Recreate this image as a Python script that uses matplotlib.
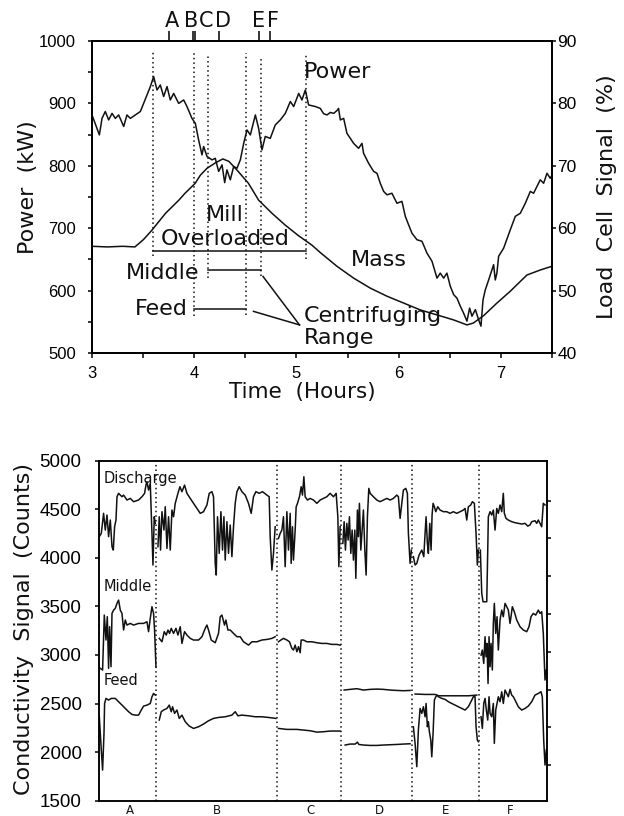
import numpy as np
import matplotlib
matplotlib.use('Agg')
import matplotlib.pyplot as plt
from matplotlib import font_manager
from matplotlib.ticker import MultipleLocator


# ---------------- top panel: mill power and load cell signal vs time
power_t = [3.000, 3.072, 3.098, 3.130, 3.163, 3.196, 3.228, 3.261, 3.310, 3.342,
           3.375, 3.424, 3.473, 3.505, 3.538, 3.571, 3.603, 3.636, 3.668, 3.701,
           3.734, 3.766, 3.799, 3.848, 3.897, 3.929, 3.978, 4.011, 4.043, 4.076,
           4.092, 4.125, 4.174, 4.206, 4.239, 4.272, 4.298, 4.320, 4.353, 4.386,
           4.418, 4.451, 4.484, 4.516, 4.549, 4.598, 4.630, 4.663, 4.695, 4.744,
           4.793, 4.842, 4.891, 4.940, 4.973, 5.022, 5.054, 5.087, 5.119, 5.185,
           5.233, 5.266, 5.299, 5.331, 5.364, 5.396, 5.412, 5.429, 5.462, 5.494,
           5.527, 5.559, 5.608, 5.641, 5.657, 5.706, 5.755, 5.788, 5.820, 5.853,
           5.886, 5.934, 5.983, 6.032, 6.065, 6.097, 6.130, 6.179, 6.228, 6.277,
           6.326, 6.375, 6.407, 6.440, 6.472, 6.505, 6.538, 6.570, 6.603, 6.635,
           6.668, 6.694, 6.717, 6.750, 6.782, 6.805, 6.825, 6.847, 6.880, 6.913,
           6.929, 6.945, 6.961, 6.978, 7.027, 7.092, 7.141, 7.190, 7.239, 7.288,
           7.320, 7.353, 7.385, 7.418, 7.451, 7.483, 7.500]
power_kw = [881.5, 849.5, 876, 887, 873.5, 884, 876, 881.5, 863, 881.5,
            876, 881.5, 887, 900, 913.5, 927, 943, 921.5, 929.5, 911,
            927, 905.5, 916, 900, 905.5, 895, 876, 868, 841.5, 817.5,
            831, 815, 809.5, 812, 791, 801.5, 773, 793.5, 777.5, 799,
            796, 809.5, 836, 857.5, 849.5, 881.5, 860, 825.5, 847, 844,
            865.5, 873.5, 884, 903, 895, 916, 905.5, 921.5, 897.5, 895,
            892, 883.5, 881.5, 885.5, 884, 888.5, 892, 873.5, 876, 852,
            844, 836, 828, 836, 820, 804, 791, 788, 772, 759,
            753.5, 756, 740, 743, 719, 705.5, 692, 681.5, 679, 660,
            647, 620, 628, 620, 628, 607, 593.5, 588, 575, 564,
            551, 572, 559, 569.5, 553.5, 543, 585, 601, 617, 633.5,
            641.5, 617, 628, 655, 668, 697.5, 719, 724, 740, 759,
            756, 767, 777.5, 772, 788, 780, 785]

mass_t = [3.00, 3.15, 3.30, 3.42, 3.505, 3.587, 3.72, 3.85, 3.91, 4.01,
          4.06, 4.125, 4.21, 4.28, 4.34, 4.43, 4.53, 4.63, 4.76, 4.89,
          5.02, 5.15, 5.233, 5.396, 5.559, 5.722, 5.886, 6.049, 6.212, 6.375,
          6.538, 6.668, 6.73, 6.832, 6.961, 7.092, 7.255, 7.385, 7.50]
mass_pct = [57.1, 57.0, 57.1, 57.0, 58.2, 59.7, 62.4, 64.5, 65.6, 67.2,
            68.5, 69.6, 70.5, 71.1, 70.7, 69.1, 67.2, 64.5, 62.4, 60.5,
            58.8, 57.3, 56.1, 53.9, 52.0, 50.4, 49.1, 48.0, 46.9, 46.1,
            45.3, 44.5, 44.8, 46.0, 48.0, 49.9, 52.5, 53.3, 53.9]

# sample times marked on the top axis
sample_names = ['A', 'B', 'C', 'D', 'E', 'F']
sample_t = [3.75, 3.99, 4.012, 4.24, 4.63, 4.74]
sample_label_t = [3.78, 3.97, 4.12, 4.28, 4.63, 4.77]

# dotted markers: time, top and bottom (kW)
marker_t = [3.60, 4.00, 4.135, 4.505, 4.655, 5.095]
marker_top = [984, 980, 978, 980, 975, 978]
marker_bot = [655, 559, 620, 561, 623, 650]

# ranges (start, end, level kW)
overload_rng = (3.60, 5.095, 663)
middle_rng = (4.135, 4.655, 633)
feed_rng = (4.00, 4.505, 570.5)
centrif_join = (5.03, 545)

# ---------------- bottom panel: conductivity traces per sample window
seg_names = ['A', 'B', 'C', 'D', 'E', 'F']
seg_edges = [57, 177.5, 241.7, 312.7, 380]
seg_label_x = [31, 117.7, 211, 280, 346.5, 411]

discharge_x = [
    [0.0, 2.0, 4.3, 6.0, 7.7, 9.3, 11.0, 12.7, 14.0, 15.3, 16.7, 17.7, 19.3, 22.7, 24.3,
     27.7, 31.0, 34.3, 39.3, 42.7, 45.3, 46.7, 47.7, 49.3, 51.0, 52.7, 53.7, 55.0, 56.0],
    [58.7, 60.0, 61.3, 62.7, 64.7, 66.0, 67.7, 69.3, 71.0, 72.7, 74.3, 76.0, 78.7, 80.7,
     82.7, 85.3, 87.7, 91.0, 94.3, 97.7, 101.0, 104.3, 107.7, 110.0, 112.7, 114.3, 116.0,
     117.0, 118.3, 120.0, 121.7, 123.3, 124.7, 126.0, 127.7, 129.3, 131.0, 132.7, 134.3,
     136.0, 137.7, 140.0, 142.7, 146.0, 149.3, 152.0, 154.3, 156.7, 160.0, 163.3, 167.7,
     170.0, 171.0, 172.7, 174.3, 176.0],
    [179.3, 181.0, 182.7, 184.3, 186.0, 187.7, 189.3, 191.0, 192.0, 193.3, 194.3, 196.0,
     197.0, 198.3, 200.3, 202.0, 203.3, 204.7, 206.0, 208.3, 211.0, 214.3, 217.7, 221.0,
     224.3, 227.7, 231.0, 234.3, 237.0, 238.7, 239.7, 241.0],
    [243.7, 245.0, 246.3, 247.7, 249.0, 250.3, 251.7, 253.0, 254.3, 255.7, 256.7, 258.3,
     259.3, 260.3, 261.7, 263.0, 264.3, 265.7, 267.0, 268.3, 269.7, 271.0, 274.3, 277.7,
     281.0, 284.3, 287.7, 291.0, 294.3, 297.7, 299.3, 301.0, 302.7, 304.3, 306.7, 308.3,
     309.3, 311.0, 312.3],
    [314.3, 316.0, 317.7, 320.0, 322.7, 324.7, 326.0, 327.0, 328.3, 329.3, 330.7, 332.0,
     333.0, 334.0, 335.3, 336.7, 338.7, 341.0, 344.3, 347.7, 351.0, 354.3, 357.7, 361.0,
     364.3, 366.0, 367.7, 369.3, 371.7, 373.3, 375.3, 377.0, 378.3, 379.3],
    [381.3, 382.7, 384.0, 387.7, 388.7, 389.3, 391.0, 392.7, 394.3, 396.0, 397.7, 399.3,
     401.0, 402.7, 404.3, 405.3, 407.0, 409.3, 412.7, 416.0, 419.3, 422.7, 426.0, 428.7,
     431.0, 432.7, 436.0, 437.7, 439.3, 441.0, 442.7, 444.3, 446.0],
]
discharge_y = [
    [4218, 4252, 4458, 4286, 4441, 4218, 4389, 4115, 4080, 4320, 4389, 4629, 4664, 4629, 4646,
     4595, 4612, 4578, 4595, 4629, 4664, 4749, 4784, 4698, 4767, 4252, 3926, 4423, 4355],
    [4115, 4423, 4080, 4475, 4286, 4526, 4097, 4423, 4080, 4492, 4423, 4561, 4664, 4732,
     4681, 4749, 4664, 4612, 4561, 4509, 4458, 4475, 4544, 4664, 4681, 4629, 3943,
     3823, 4423, 4046, 4475, 4080, 4423, 3977, 4372, 4046, 4338, 4012, 4320,
     4561, 4681, 4732, 4681, 4646, 4561, 4458, 4629, 4681, 4664, 4681, 4646,
     4629, 4218, 3874, 4046, 4320],
    [4200, 4252, 4286, 4423, 3909, 4475, 4080, 4458, 3943, 4320, 3977, 4286,
     4526, 4561, 4629, 4732, 4646, 4835, 4629, 4595, 4612, 4595, 4561, 4595,
     4612, 4629, 4664, 4629, 4664, 4423, 3909, 4320],
    [4149, 4372, 4080, 4355, 4183, 4423, 4046, 4286, 3977, 4286, 3789, 4492,
     4218, 4561, 4080, 4286, 4492, 4080, 3823, 4423, 4715, 4664, 4629, 4595,
     4578, 4595, 4612, 4595, 4612, 4646, 4629, 4406, 4561, 4698, 4715, 4664,
     4252, 3943, 4080],
    [4012, 3926, 3943, 4029, 4080, 4012, 4252, 4423, 4149, 4046, 4355, 4080,
     4441, 4561, 4526, 4475, 4526, 4492, 4475, 4475, 4458, 4475, 4458, 4475,
     4492, 4509, 4389, 4526, 4544, 4578, 4561, 4252, 3926, 4080],
    [4080, 3634, 3548, 3548, 4080, 4423, 4475, 4441, 4492, 4286, 4509, 4458,
     4544, 4475, 4664, 4458, 4406, 4389, 4372, 4362, 4355, 4348, 4355, 4327,
     4338, 4372, 4382, 4355, 4389, 4355, 4320, 4561, 4544],
]

middle_x = [
    [1.0, 3.3, 5.0, 6.7, 8.0, 9.3, 10.3, 11.7, 12.7, 14.3, 16.0, 17.7, 19.3, 21.0, 22.7,
     24.3, 26.0, 27.7, 31.0, 34.3, 39.3, 44.3, 47.7, 49.3, 51.0, 52.7, 54.3, 55.3, 56.7],
    [60.0, 62.7, 65.0, 67.0, 68.7, 70.3, 72.0, 74.3, 76.7, 78.7, 81.0, 82.7, 85.3, 87.7,
     91.0, 94.3, 99.3, 102.7, 106.0, 107.7, 109.3, 112.0, 116.0, 119.3, 121.0, 122.7,
     125.3, 126.7, 128.7, 131.0, 134.3, 137.7, 141.0, 144.3, 149.3, 152.7, 157.7, 162.7,
     167.7, 172.7, 176.0],
    [179.3, 181.7, 184.3, 187.7, 190.3, 192.7, 194.3, 196.0, 197.7, 199.3, 201.0, 202.0,
     204.3, 207.7, 212.7, 217.7, 222.7, 227.7, 232.7, 237.7, 241.0],
    [245.0, 251.0, 257.7, 264.3, 271.0, 277.7, 284.3, 291.0, 297.7, 304.3, 311.0],
    [316.0, 326.0, 336.0, 339.3, 349.3, 359.3, 369.3, 377.7],
    [382.0, 383.3, 384.7, 386.0, 387.0, 388.0, 389.0, 390.0, 391.0, 392.0, 393.3, 394.3,
     395.3, 396.7, 398.0, 399.3, 401.0, 402.7, 404.3, 406.0, 407.7, 409.3, 411.0, 412.0,
     413.3, 415.3, 417.7, 421.0, 424.3, 427.7, 430.0, 432.0, 434.3, 436.7, 439.3, 441.0,
     442.7, 444.3, 446.0, 447.3],
]
middle_y = [
    [2862, 2845, 3411, 3154, 3394, 2862, 3291, 2879, 3428, 3462, 3480, 3531, 3565, 3462, 3428,
     3257, 3360, 3308, 3325, 3308, 3325, 3325, 3342, 3240, 3377, 3497, 3428, 3257, 2879],
    [3171, 3136, 3240, 3205, 3257, 3222, 3274, 3222, 3274, 3205, 3291, 3119, 3240, 3205,
     3171, 3154, 3154, 3188, 3274, 3308, 3257, 3154, 3126, 3222, 3394, 3411,
     3308, 3360, 3257, 3257, 3222, 3188, 3188, 3136, 3102, 3136, 3136, 3154,
     3160, 3171, 3188],
    [3136, 3154, 3171, 3154, 3136, 3068, 3051, 3102, 3033, 3085, 3023, 3154,
     3154, 3136, 3136, 3126, 3119, 3119, 3109, 3109, 3102],
    [2639, 2646, 2653, 2639, 2646, 2649, 2646, 2639, 2635, 2632, 2635],
    [2598, 2594, 2594, 2580, 2580, 2580, 2580, 2587],
    [2999, 3051, 2913, 3188, 2982, 3119, 2707, 3188, 2879, 3119, 2845, 3325,
     3531, 3222, 3394, 3051, 3360, 3462, 3394, 3531, 3497, 3462, 3325, 3394,
     3497, 3445, 3360, 3291, 3257, 3240, 3291, 3394, 3428, 3411, 3462, 3428,
     3445, 3222, 2742, 2845],
]

feed_x = [
    [0.0, 2.0, 3.3, 4.7, 5.3, 6.7, 9.3, 12.0, 16.0, 19.3, 22.7, 26.0, 29.3, 32.7, 36.0,
     39.3, 42.0, 44.3, 47.7, 51.0, 52.7, 54.3, 56.0],
    [60.0, 62.0, 64.3, 67.7, 70.0, 72.0, 73.3, 75.3, 77.7, 80.0, 82.7, 86.0, 90.0, 94.3,
     99.3, 104.3, 109.3, 114.3, 119.3, 126.0, 132.7, 136.0, 138.7, 142.7, 149.3, 156.0,
     162.7, 169.3, 176.7],
    [179.3, 187.7, 197.7, 204.3, 211.0, 217.7, 224.3, 231.0, 241.0],
    [246.0, 251.0, 256.0, 258.3, 259.7, 264.3, 271.0, 277.7, 284.3, 291.0, 297.7, 304.3,
     311.0],
    [314.3, 316.0, 317.7, 319.3, 321.0, 322.7, 324.3, 326.0, 327.0, 328.3, 329.3, 330.3,
     331.7, 332.7, 334.0, 335.3, 336.7, 338.0, 339.3, 342.7, 346.0, 349.3, 352.7, 356.0,
     359.3, 362.7, 366.0, 369.3, 372.7, 374.3, 376.0, 377.0, 378.3, 379.3],
    [382.0, 383.3, 384.7, 386.0, 387.3, 388.7, 390.0, 391.0, 392.7, 394.3, 395.3, 396.7,
     398.0, 399.3, 401.0, 402.7, 404.3, 406.0, 407.7, 409.3, 411.0, 412.7, 414.3, 416.0,
     419.3, 422.7, 426.0, 429.3, 432.7, 436.0, 439.3, 442.0, 443.3, 444.7, 446.0, 447.3],
]
feed_y = [
    [2364, 2021, 1815, 2193, 2501, 2553, 2536, 2553, 2553, 2519, 2484, 2450, 2416, 2388, 2381,
     2381, 2433, 2474, 2484, 2501, 2570, 2604, 2587],
    [2330, 2416, 2433, 2450, 2484, 2416, 2467, 2399, 2433, 2347, 2381, 2313, 2268, 2244,
     2261, 2289, 2323, 2347, 2357, 2364, 2381, 2416, 2374, 2381, 2374, 2364,
     2364, 2357, 2347],
    [2244, 2234, 2234, 2227, 2220, 2206, 2210, 2217, 2217],
    [2073, 2083, 2083, 2103, 2079, 2073, 2069, 2069, 2073, 2076, 2079, 2083, 2086],
    [2261, 2090, 1850, 2227, 2450, 2399, 2467, 2364, 2501, 2261, 2313, 2210,
     2124, 1952, 2193, 2536, 2570, 2587, 2570, 2553, 2543, 2519, 2501, 2484,
     2467, 2450, 2433, 2467, 2536, 2570, 2570, 2261, 2124, 2107],
    [2364, 2244, 2501, 2553, 2433, 2330, 2570, 2399, 2364, 2501, 2090, 2433,
     2501, 2570, 2519, 2621, 2501, 2639, 2604, 2570, 2646, 2587, 2570, 2536,
     2467, 2433, 2450, 2474, 2519, 2587, 2604, 2622, 2570, 2124, 1867, 2021],
]


def pick_font(names, fallback='DejaVu Sans'):
    for name in names:
        try:
            font_manager.findfont(name, fallback_to_default=False)
            return name
        except ValueError:
            pass
    return fallback


# narrow-ish digits like the scanned original
tick_font = pick_font(['Liberation Sans Narrow', 'Liberation Sans'])
label_font = 'DejaVu Sans'
plt.rcParams['font.family'] = label_font
plt.rcParams['axes.linewidth'] = 1.1

W, H = 624, 816
fig = plt.figure(figsize=(W / 100, H / 100), dpi=100)


def px_box(x0, y0, x1, y1):
    # pixel box (top-left origin) -> figure fraction rect
    return [x0 / W, 1 - y1 / H, (x1 - x0) / W, (y1 - y0) / H]


LW = 1.1
ink = '#111111'

# ================= top panel
ax = fig.add_axes(px_box(92, 41, 552, 353))
ax.plot(power_t, power_kw, color=ink, lw=LW)
ax.set_xlim(3, 7.5)
ax.set_ylim(500, 1000)
ax.xaxis.set_major_locator(MultipleLocator(1))
ax.xaxis.set_minor_locator(MultipleLocator(0.5))
ax.yaxis.set_major_locator(MultipleLocator(100))
ax.yaxis.set_minor_locator(MultipleLocator(50))
ax.tick_params(axis='y', which='both', direction='out', length=3, width=1.1)
ax.tick_params(axis='y', pad=8.5)
ax.tick_params(axis='x', which='both', direction='out', length=3.5, width=1.1)
ax.tick_params(axis='x', pad=6)
for lab in ax.get_xticklabels() + ax.get_yticklabels():
    lab.set_fontfamily(tick_font)
    lab.set_fontsize(12)

axm = ax.twinx()
axm.plot(mass_t, mass_pct, color=ink, lw=LW)
axm.set_ylim(40, 90)
axm.yaxis.set_major_locator(MultipleLocator(10))
axm.tick_params(axis='y', direction='out', length=3, width=1.1, pad=1)
for lab in axm.get_yticklabels():
    lab.set_fontfamily(tick_font)
    lab.set_fontsize(12.5)

# sample ticks and letters on the top edge
axt = ax.twiny()
axt.set_xlim(ax.get_xlim())
axt.set_xticks(sample_t)
axt.set_xticklabels([])
axt.tick_params(axis='x', direction='out', length=7, width=1.1)
for name, tx in zip(sample_names, sample_label_t):
    ax.text(tx, 1.046, name, transform=ax.get_xaxis_transform(), ha='center',
            va='baseline', fontsize=15, color=ink)

# dotted markers
for mt, top, bot in zip(marker_t, marker_top, marker_bot):
    ax.plot([mt, mt], [bot, top], color=ink, lw=1.1, ls=(0, (1, 2.0)))

for t0, t1, lev in (overload_rng, middle_rng, feed_rng):
    ax.plot([t0, t1], [lev, lev], color=ink, lw=LW)

# connectors to "Centrifuging Range"
ax.plot([4.673, centrif_join[0]], [622.7, centrif_join[1]], color=ink, lw=LW)
ax.plot([4.58, centrif_join[0]], [566.7, centrif_join[1]], color=ink, lw=LW)

txt = dict(fontsize=16, color=ink, va='center')
ax.text(5.07, 951, 'Power', ha='left', **txt)
ax.text(4.30, 721.5, 'Mill', ha='center', **txt)
ax.text(4.30, 682.5, 'Overloaded', ha='center', **txt)
ax.text(5.53, 649, 'Mass', ha='left', **txt)
ax.text(4.05, 628, 'Middle', ha='right', **txt)
ax.text(3.94, 570, 'Feed', ha='right', **txt)
ax.text(5.07, 558.7, 'Centrifuging', ha='left', **txt)
ax.text(5.07, 524, 'Range', ha='left', **txt)

fig.text(28 / W, 1 - 187 / H, 'Power  (kW)', rotation=90, ha='center', va='center',
         fontsize=16, color=ink)
fig.text(607 / W, 1 - 197 / H, 'Load  Cell  Signal  (%)', rotation=90, ha='center',
         va='center', fontsize=16, color=ink)
fig.text(302 / W, 1 - 392 / H, 'Time  (Hours)', ha='center', va='center',
         fontsize=15.5, color=ink)

# ================= bottom panel
bx = fig.add_axes(px_box(99, 460.7, 547, 800.7))
for xs, ys in zip(discharge_x, discharge_y):
    bx.plot(xs, ys, color=ink, lw=LW)
for xs, ys in zip(middle_x, middle_y):
    bx.plot(xs, ys, color=ink, lw=LW)
for xs, ys in zip(feed_x, feed_y):
    bx.plot(xs, ys, color=ink, lw=LW)
for ex in seg_edges:
    bx.axvline(ex, color=ink, lw=1.1, ls=(0, (1, 2.0)))

bx.set_xlim(-0.3, 448)
bx.set_ylim(1500, 5000)
bx.yaxis.set_major_locator(MultipleLocator(500))
bx.set_xticks([])
bx.tick_params(axis='y', direction='out', length=3, width=1.1, pad=9.5)
for lab in bx.get_yticklabels():
    lab.set_fontfamily(tick_font)
    lab.set_fontsize(13.5)
for name, lx in zip(seg_names, seg_label_x):
    bx.text(lx, -0.030, name, transform=bx.get_xaxis_transform(), ha='center',
            va='center', fontsize=8.5, color=ink)

bxr = bx.twinx()
bxr.set_ylim(0.056, 9.058)
bxr.set_yticks(range(1, 9))
bxr.set_yticklabels([])
bxr.tick_params(axis='y', direction='out', length=3, width=1.1)

bt = dict(fontsize=10.5, color=ink, va='center', ha='left')
bx.text(4.3, 4819, 'Discharge', **bt)
bx.text(4.3, 3702, 'Middle', **bt)
bx.text(4.3, 2742, 'Feed', **bt)

fig.text(24 / W, 1 - 629 / H, 'Conductivity  Signal  (Counts)', rotation=90,
         ha='center', va='center', fontsize=16, color=ink)

fig.savefig('out.png', dpi=100, facecolor='white')
